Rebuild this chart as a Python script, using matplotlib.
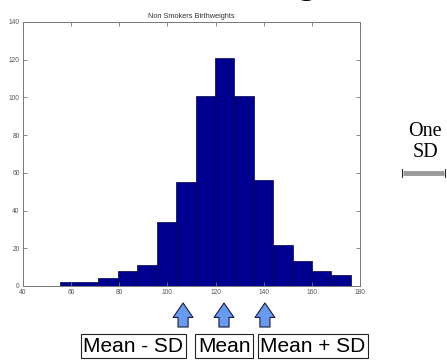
import numpy as np
import matplotlib.pyplot as plt

# Histogram bins (ounces) and counts
bin_edges = [55.2, 63.3, 71.3, 79.4, 87.5, 95.5, 103.6, 111.7, 119.7,
             127.8, 135.9, 143.9, 152.0, 160.1, 168.1, 176.2]
counts = [2, 2, 4, 8, 11, 34, 55, 101, 121, 101, 56, 22, 13, 8, 6]

mean = 123.5
sd = 17.0
marker_labels = ["Mean - SD", "Mean", "Mean + SD"]
marker_x = [mean - sd, mean, mean + sd]

W, H = 447, 360
fig = plt.figure(figsize=(W / 100, H / 100), dpi=100)
ax = fig.add_axes([23 / W, 1 - 286 / H, (360 - 23) / W, (286 - 22) / H])

edges = np.array(bin_edges)
ax.bar(edges[:-1], counts, width=np.diff(edges), align="edge",
       color="#000090", edgecolor="#000040", linewidth=0.5)

ax.set_xlim(40, 180)
ax.set_ylim(0, 140)
ax.set_xticks(np.arange(40, 181, 20))
ax.set_yticks(np.arange(0, 141, 20))
ax.tick_params(direction="in", length=3, width=0.6, colors="#777777",
               labelsize=4.8, labelcolor="#555555", pad=2.5,
               top=True, right=True)
for s in ax.spines.values():
    s.set_color("#777777")
    s.set_linewidth(0.7)
ax.set_title("Non Smokers Birthweights", fontsize=5.3, color="#333333",
             family="Liberation Sans", pad=3)
for lab in ax.get_xticklabels() + ax.get_yticklabels():
    lab.set_family("Liberation Sans")

# arrows pointing up at mean and mean +/- one SD
xt = ax.get_xaxis_transform()
for x in marker_x:
    ax.annotate("", xy=(x, (286 - 303) / 264), xytext=(x, (286 - 327) / 264),
                xycoords=xt, textcoords=xt,
                arrowprops=dict(arrowstyle="simple,head_length=0.4,head_width=0.55,tail_width=0.28",
                                mutation_scale=26, fc="#6a9af0", ec="#1a1a40", lw=0.8,
                                shrinkA=0, shrinkB=0))

# labelled boxes under the arrows
box_cx = [133, 224, 313]
for cx, lab in zip(box_cx, marker_labels):
    fig.text(cx / W, 1 - 346 / H, lab, ha="center", va="center",
             fontsize=15, family="Liberation Sans", color="black",
             bbox=dict(boxstyle="square,pad=0.12", fc="white", ec="#222222", lw=0.8))

# one-SD scale bar
fig.text(425 / W, 1 - 142 / H, "One\nSD", ha="center", va="center",
         fontsize=14.5, family="Liberation Serif", linespacing=1.2)
bar_y = (286 - 173) / 264
bar_x0 = 40 + (403 - 23) / 2.407
ax.plot([bar_x0, bar_x0 + sd], [bar_y, bar_y], transform=xt,
        color="#999999", lw=3.5, clip_on=False, solid_capstyle="butt")
for bx in [bar_x0 - 0.6, bar_x0 + sd + 0.6]:
    ax.plot([bx, bx], [bar_y - 0.015, bar_y + 0.015], transform=xt,
            color="#333333", lw=0.8, clip_on=False)

# descender of the slide heading above the frame
fig.text(306 / W, 1 + 7 / H, "g", ha="center", va="baseline",
         fontsize=28, fontweight="bold", family="Liberation Sans")

fig.savefig("out.png", dpi=100)
